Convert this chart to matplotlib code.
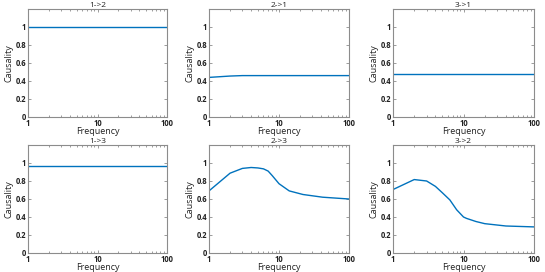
import numpy as np
import matplotlib
matplotlib.use('Agg')
import matplotlib.pyplot as plt
from matplotlib.ticker import FixedLocator, FixedFormatter, LogLocator, NullFormatter

titles = ['1->2', '2->1', '3->1', '1->3', '2->3', '3->2']

freq_flat = [1, 100]
c12 = [0.995, 0.995]
c31 = [0.48, 0.48]
c13 = [0.97, 0.97]

freq_21 = [1, 2, 3, 100]
c21 = [0.44, 0.455, 0.46, 0.46]

freq_23 = [1, 2, 3, 4, 5, 6, 7, 8, 10, 14, 22, 42, 100]
c23 = [0.69, 0.887, 0.94, 0.95, 0.945, 0.935, 0.91, 0.86, 0.77, 0.69, 0.65, 0.62, 0.60]

freq_32 = [1, 2, 3, 4, 5, 6.4, 8, 10, 11, 15, 20, 40, 100]
c32 = [0.705, 0.816, 0.80, 0.74, 0.67, 0.59, 0.48, 0.40, 0.385, 0.35, 0.326, 0.30, 0.29]

series = [(freq_flat, c12), (freq_21, c21), (freq_flat, c31),
          (freq_flat, c13), (freq_23, c23), (freq_32, c32)]

W, H = 545, 272
fig = plt.figure(figsize=(W / 100, H / 100), dpi=100)

# axes boxes in pixels: left, right, top, bottom
cols = [(28, 167), (209, 349), (393, 534)]
rows = [(9, 117), (145, 253)]

spine_c = '#8c8c8c'
blue = '#0072BD'
plt.rcParams['font.family'] = ['Open Sans', 'DejaVu Sans']

for i, (title, (fx, fy)) in enumerate(zip(titles, series)):
    l, r = cols[i % 3]
    t, b = rows[i // 3]
    ax = fig.add_axes([l / W, 1 - b / H, (r - l) / W, (b - t) / H])
    ax.plot(fx, fy, color=blue, lw=1.0)
    ax.set_xscale('log')
    ax.set_xlim(1, 100)
    ax.set_ylim(0, 1.2)
    ax.xaxis.set_major_locator(FixedLocator([1, 10, 100]))
    ax.xaxis.set_major_formatter(FixedFormatter(['1', '10', '100']))
    ax.xaxis.set_minor_locator(LogLocator(base=10, subs=np.arange(2, 10)))
    ax.xaxis.set_minor_formatter(NullFormatter())
    ax.set_yticks([0, 0.2, 0.4, 0.6, 0.8, 1])
    ax.set_yticklabels(['0', '0.2', '0.4', '0.6', '0.8', '1'])
    ax.tick_params(which='both', direction='in', top=True, right=True,
                   color=spine_c, labelsize=5.5, pad=1.5, width=0.6)
    ax.tick_params(which='major', length=2.5)
    ax.tick_params(which='minor', length=1.5)
    for lab in ax.get_xticklabels() + ax.get_yticklabels():
        lab.set_fontweight('bold')
        lab.set_color('#222222')
    for s in ax.spines.values():
        s.set_color(spine_c)
        s.set_linewidth(0.8)
    ax.set_title(title, fontsize=6, pad=1, color='#222222')
    ax.set_xlabel('Frequency', fontsize=6.5, labelpad=-1, color='#222222')
    ax.set_ylabel('Causality', fontsize=6.5, labelpad=1, color='#222222')

fig.savefig('out.png', dpi=100)
